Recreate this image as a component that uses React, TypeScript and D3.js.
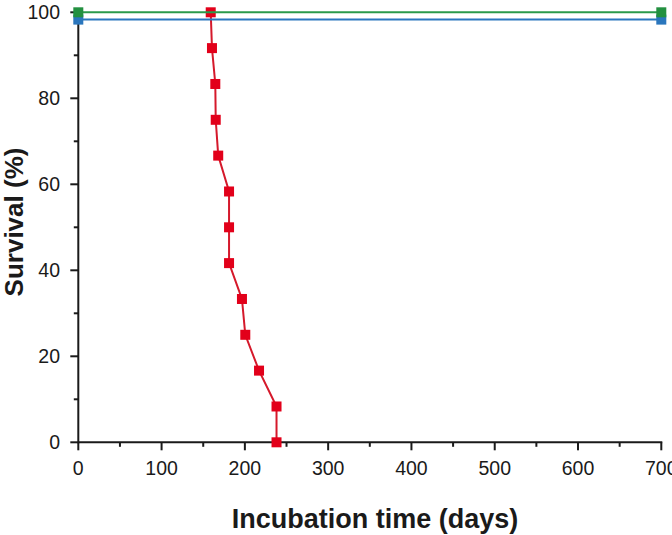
import React from "react";
import * as d3 from "d3";

const redDays = [159, 160.5, 164.5, 165, 168, 181, 181, 181, 196.5, 200.5, 217, 238, 238];
const redSurvival = [100, 91.67, 83.33, 75, 66.67, 58.33, 50, 41.67, 33.33, 25, 16.67, 8.33, 0];
const greenDays = [0, 700];
const greenSurvival = [100, 100];
const blueDays = [0, 700];
const blueSurvival = [98.3, 98.3];
const xMajorTicks = [0, 100, 200, 300, 400, 500, 600, 700];
const xMinorTicks = [50, 150, 250, 350, 450, 550, 650];
const yMajorTicks = [0, 20, 40, 60, 80, 100];
const yMinorTicks = [10, 30, 50, 70, 90];

const W = 672;
const H = 535;
const FONT = "'Liberation Sans', Arial, Helvetica, sans-serif";

export default function App() {
  const x = d3.scaleLinear().domain([0, 700]).range([78.3, 661.3]);
  const y = d3.scaleLinear().domain([0, 100]).range([442.3, 12.3]);
  const line = d3
    .line<[number, number]>()
    .x((d) => x(d[0]))
    .y((d) => y(d[1]));

  const series = [
    { days: redDays, vals: redSurvival, color: "#e2001a", stroke: "#d5192b" },
    { days: blueDays, vals: blueSurvival, color: "#2a76bd", stroke: "#2a76bd" },
    { days: greenDays, vals: greenSurvival, color: "#239040", stroke: "#2a9a4a" },
  ];

  const axisColor = "#1a1a1a";
  const y0 = y(0);
  const x0 = x(0);

  return (
    <svg
      width={W}
      height={H}
      style={{ position: "absolute", left: 0, top: 0, background: "#fff" }}
      fontFamily={FONT}
    >
      <rect width={W} height={H} fill="#fff" />
      {/* axes */}
      <line x1={x0} x2={x(700) + 1} y1={y0} y2={y0} stroke={axisColor} strokeWidth={2} />
      <line x1={x0} x2={x0} y1={y0 + 1} y2={y(100) - 1} stroke={axisColor} strokeWidth={2} />
      {xMajorTicks.map((t) => (
        <g key={"xm" + t}>
          <line x1={x(t)} x2={x(t)} y1={y0} y2={y0 + 8} stroke={axisColor} strokeWidth={2} />
          <text x={x(t)} y={475} textAnchor="middle" fontSize={19.5} fill="#1a1a1a">
            {t}
          </text>
        </g>
      ))}
      {xMinorTicks.map((t) => (
        <line key={"xn" + t} x1={x(t)} x2={x(t)} y1={y0} y2={y0 + 4.5} stroke={axisColor} strokeWidth={2} />
      ))}
      {yMajorTicks.map((t) => (
        <g key={"ym" + t}>
          <line x1={x0 - 8} x2={x0} y1={y(t)} y2={y(t)} stroke={axisColor} strokeWidth={2} />
          <text x={60} y={y(t) + 7} textAnchor="end" fontSize={19.5} fill="#1a1a1a">
            {t}
          </text>
        </g>
      ))}
      {yMinorTicks.map((t) => (
        <line key={"yn" + t} x1={x0 - 4.5} x2={x0} y1={y(t)} y2={y(t)} stroke={axisColor} strokeWidth={2} />
      ))}
      {/* series */}
      {series.map((s, i) => {
        const pts: [number, number][] = s.days.map((d, j) => [d, s.vals[j]]);
        return (
          <g key={i}>
            <path d={line(pts) || ""} fill="none" stroke={s.stroke} strokeWidth={2} />
            {pts.map((p, j) => (
              <rect
                key={j}
                x={x(p[0]) - 5}
                y={y(p[1]) - 5}
                width={10}
                height={10}
                fill={s.color}
              />
            ))}
          </g>
        );
      })}
      {/* labels */}
      <text x={375} y={528} textAnchor="middle" fontSize={27} fontWeight="bold" fill="#1a1a1a">
        Incubation time (days)
      </text>
      <text
        transform={`translate(23,222) rotate(-90)`}
        textAnchor="middle"
        fontSize={26}
        fontWeight="bold"
        fill="#1a1a1a"
      >
        Survival (%)
      </text>
    </svg>
  );
}
